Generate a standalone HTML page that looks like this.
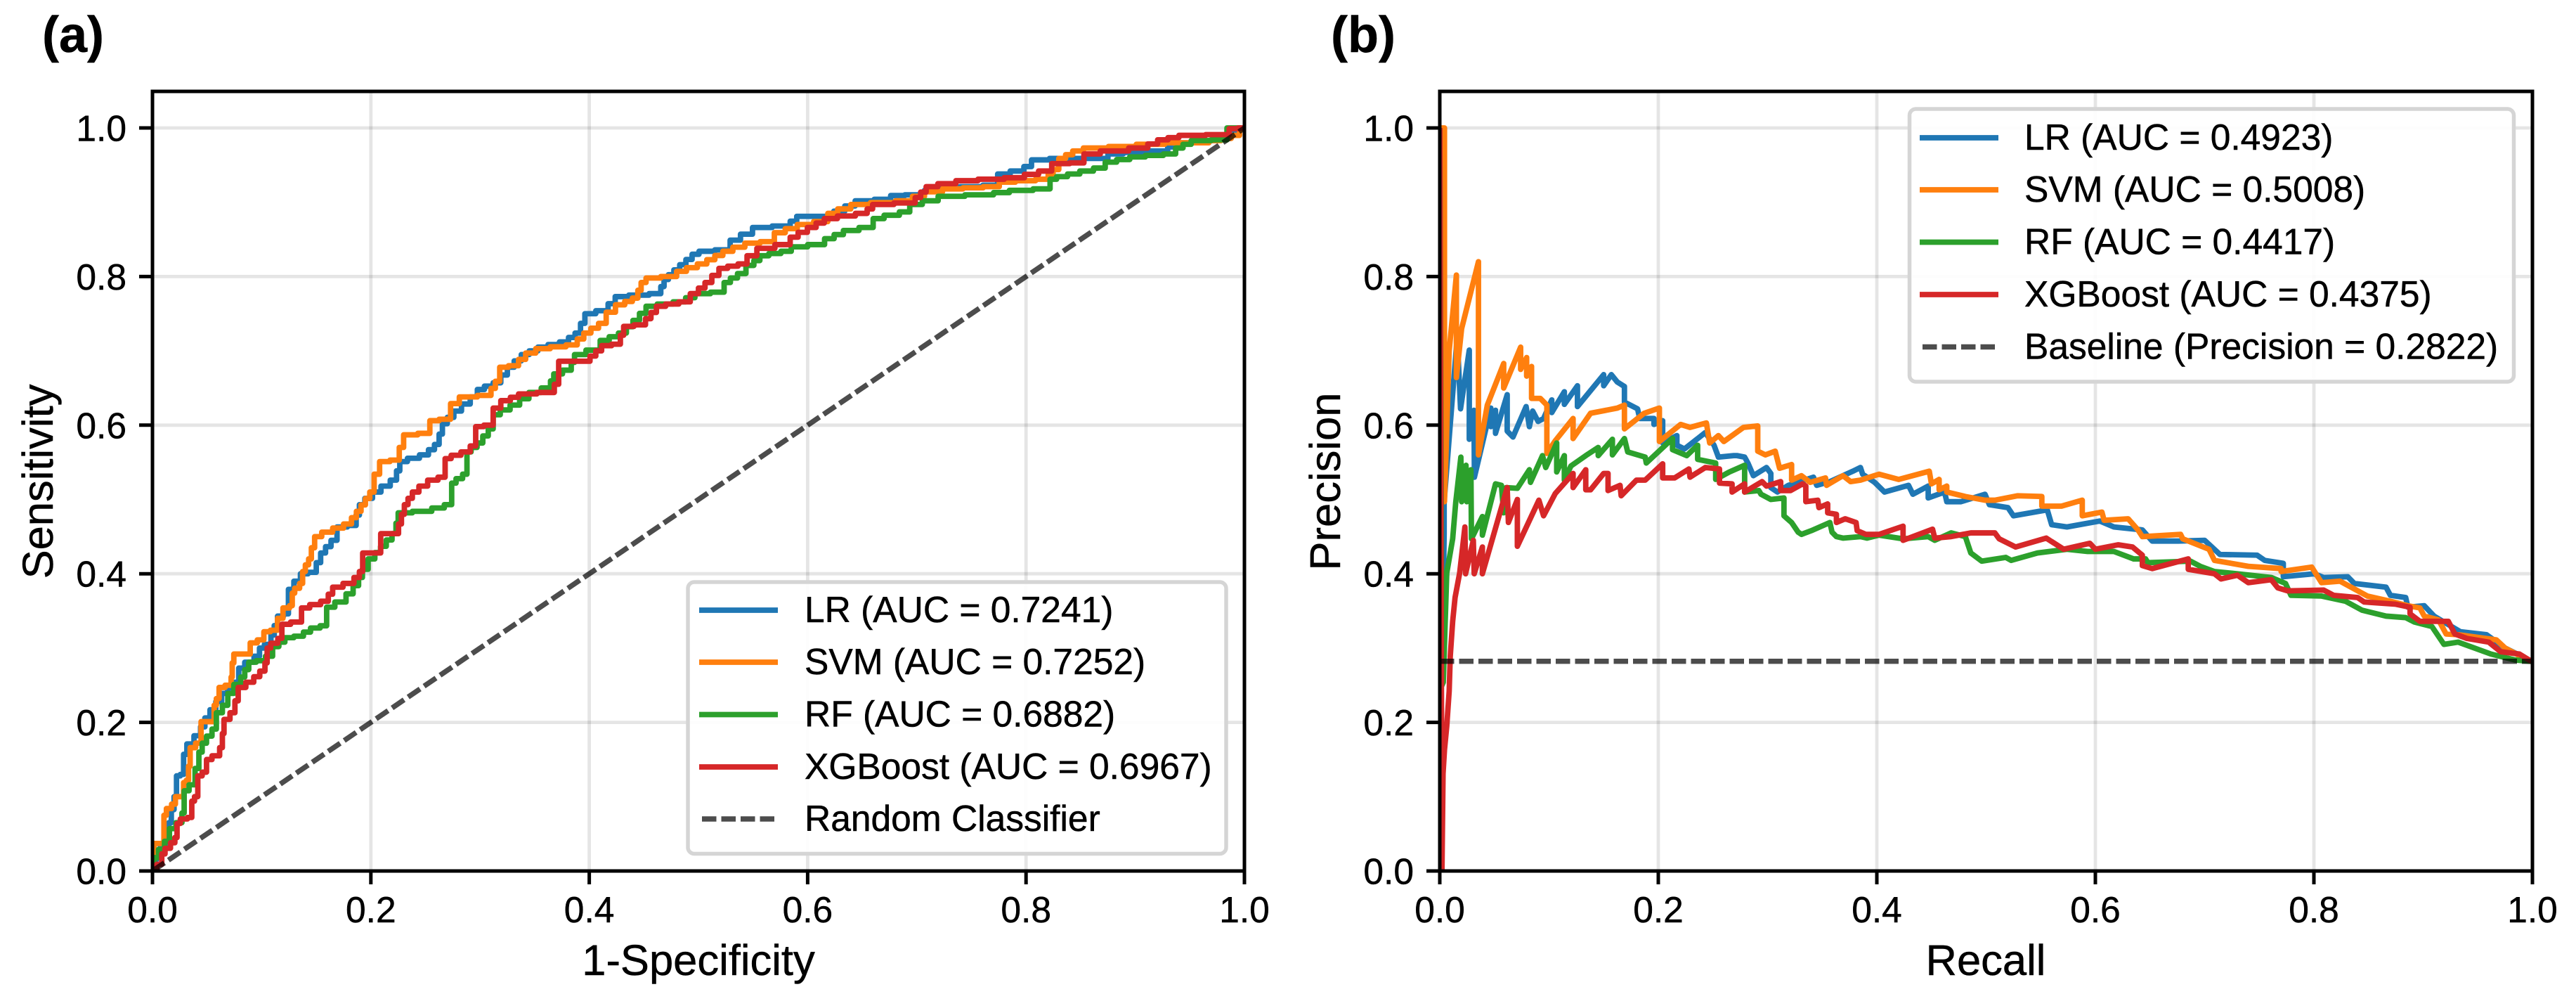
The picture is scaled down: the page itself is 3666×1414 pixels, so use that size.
<!DOCTYPE html>
<html lang="en">
<head>
<meta charset="utf-8">
<title>ROC and Precision-Recall curves</title>
<style>
html,body{margin:0;padding:0;background:#fff;}
svg{display:block;}
text{font-family:"Liberation Sans",Arial,sans-serif;fill:#000;stroke:#000;stroke-width:.5px;}
.tick{font-size:51.5px;}
.leg{font-size:51.5px;}
.axl{font-size:61.5px;text-anchor:middle;}
.pan{font-size:72px;font-weight:bold;}
</style>
</head>
<body>
<svg id="fig" xmlns="http://www.w3.org/2000/svg" width="3666" height="1414" viewBox="0 0 3666 1414">
  <rect x="0" y="0" width="3666" height="1414" fill="#fff"/>
  <defs>
    <clipPath id="clipA"><rect x="217" y="129" width="1554" height="1110"/></clipPath>
    <clipPath id="clipB"><rect x="2049" y="129" width="1555" height="1110"/></clipPath>
  </defs>
  <g id="panelA"></g>
  <g id="panelB"></g>

  <text class="pan" x="60" y="74">(a)</text>
  <text class="pan" x="1894" y="74">(b)</text>

  <text class="axl" x="994" y="1387">1-Specificity</text>
  <text class="axl" transform="translate(75 685) rotate(-90)">Sensitivity</text>
  <text class="axl" x="2826" y="1387">Recall</text>
  <text class="axl" transform="translate(1907 685) rotate(-90)">Precision</text>

  <g>
    <rect x="979" y="828" width="766" height="386.5" rx="9" fill="#fff" fill-opacity=".9" stroke="#d5d5d5" stroke-width="5.5"/>
    <line x1="995" x2="1107" y1="868" y2="868" stroke="#1f77b4" stroke-width="7.8"/>
    <text class="leg" x="1145" y="885">LR (AUC = 0.7241)</text>
    <line x1="995" x2="1107" y1="942" y2="942" stroke="#ff7f0e" stroke-width="7.8"/>
    <text class="leg" x="1145" y="959">SVM (AUC = 0.7252)</text>
    <line x1="995" x2="1107" y1="1016.5" y2="1016.5" stroke="#2ca02c" stroke-width="7.8"/>
    <text class="leg" x="1145" y="1033.5">RF (AUC = 0.6882)</text>
    <line x1="995" x2="1107" y1="1091" y2="1091" stroke="#d62728" stroke-width="7.8"/>
    <text class="leg" x="1145" y="1108">XGBoost (AUC = 0.6967)</text>
    <line x1="999" x2="1103" y1="1165" y2="1165" stroke="#000" stroke-opacity=".7" stroke-width="7.6" stroke-dasharray="20.5 7"/>
    <text class="leg" x="1145" y="1182">Random Classifier</text>
  </g>

  <g>
    <rect x="2717.5" y="155" width="860" height="388" rx="9" fill="#fff" fill-opacity=".9" stroke="#d5d5d5" stroke-width="5.5"/>
    <line x1="2732" x2="2844" y1="196" y2="196" stroke="#1f77b4" stroke-width="7.8"/>
    <text class="leg" x="2881" y="213">LR (AUC = 0.4923)</text>
    <line x1="2732" x2="2844" y1="270" y2="270" stroke="#ff7f0e" stroke-width="7.8"/>
    <text class="leg" x="2881" y="287">SVM (AUC = 0.5008)</text>
    <line x1="2732" x2="2844" y1="344.5" y2="344.5" stroke="#2ca02c" stroke-width="7.8"/>
    <text class="leg" x="2881" y="361.5">RF (AUC = 0.4417)</text>
    <line x1="2732" x2="2844" y1="419" y2="419" stroke="#d62728" stroke-width="7.8"/>
    <text class="leg" x="2881" y="436">XGBoost (AUC = 0.4375)</text>
    <line x1="2736" x2="2840" y1="493.5" y2="493.5" stroke="#000" stroke-opacity=".7" stroke-width="7.6" stroke-dasharray="20.5 7"/>
    <text class="leg" x="2881" y="510.5">Baseline (Precision = 0.2822)</text>
  </g>
</svg>

<script>
const tickValues = [0, 0.2, 0.4, 0.6, 0.8, 1];
const tickLabels = ['0.0', '0.2', '0.4', '0.6', '0.8', '1.0'];

const rocDiagonal = [[0,0],[1,1]];
const prBaseline = [[0,0.2822],[1,0.2822]];

const rocLr = [[0,0],[.002,.015],[.005,.027],[.014,.043],[.016,.065],[.021,.1],[.023,.128],[.028,.13],[.029,.157],[.034,.171],[.042,.182],[.05,.206],[.066,.239],[.077,.254],[.081,.273],[.088,.281],[.098,.289],[.098,.3],[.107,.305],[.116,.343],[.124,.346],[.125,.379],[.134,.39],[.137,.4],[.148,.402],[.156,.428],[.166,.445],[.172,.463],[.185,.465],[.191,.493],[.205,.51],[.222,.526],[.228,.551],[.25,.56],[.261,.574],[.267,.602],[.279,.619],[.295,.638],[.3,.648],[.316,.657],[.328,.678],[.341,.695],[.357,.705],[.378,.712],[.39,.724],[.398,.75],[.414,.754],[.427,.773],[.464,.777],[.47,.796],[.48,.809],[.497,.83],[.504,.834],[.526,.836],[.532,.849],[.545,.857],[.554,.866],[.581,.868],[.593,.881],[.619,.881],[.639,.895],[.648,.902],[.674,.904],[.678,.909],[.7,.91],[.714,.916],[.748,.921],[.773,.923],[.775,.938],[.796,.942],[.8,.948],[.81,.957],[.833,.959],[.873,.959],[.877,.965],[.925,.969],[.944,.98],[.984,.986],[.999,1],[1,1]];
const rocSvm = [[0,0],[.0015,.0085],[.0015,.037],[.0105,.037],[.0105,.075],[.015,.084],[.02,.09],[.022,.1],[.028,.1],[.029,.119],[.033,.122],[.033,.141],[.036,.166],[.043,.172],[.046,.201],[.056,.201],[.057,.223],[.06,.232],[.062,.247],[.071,.25],[.073,.261],[.073,.28],[.076,.292],[.088,.292],[.091,.307],[.101,.311],[.103,.322],[.113,.324],[.116,.34],[.123,.354],[.128,.357],[.128,.374],[.137,.387],[.138,.403],[.142,.412],[.144,.42],[.15,.45],[.16,.456],[.18,.467],[.189,.484],[.201,.51],[.205,.534],[.211,.551],[.224,.553],[.232,.587],[.254,.589],[.254,.606],[.271,.608],[.275,.629],[.287,.638],[.308,.64],[.316,.659],[.32,.678],[.332,.68],[.345,.697],[.357,.703],[.386,.708],[.398,.724],[.412,.737],[.419,.752],[.429,.762],[.443,.771],[.449,.792],[.455,.798],[.476,.8],[.484,.807],[.504,.817],[.526,.834],[.548,.845],[.565,.847],[.574,.859],[.596,.87],[.615,.874],[.622,.885],[.633,.891],[.646,.897],[.692,.902],[.7,.908],[.714,.914],[.733,.918],[.77,.921],[.781,.927],[.818,.931],[.827,.944],[.833,.959],[.846,.969],[.859,.973],[.892,.975],[.91,.978],[.944,.98],[.962,.98],[.984,.986],[.992,.99],[.999,.999],[1,1]];
const rocRf = [[0,0],[.003,.018],[.008,.029],[.014,.04],[.017,.057],[.026,.065],[.028,.078],[.03,.108],[.037,.116],[.041,.138],[.044,.16],[.047,.172],[.057,.191],[.06,.213],[.068,.223],[.07,.239],[.079,.251],[.09,.281],[.1,.283],[.107,.289],[.113,.302],[.124,.314],[.135,.316],[.148,.327],[.159,.33],[.16,.355],[.174,.362],[.187,.384],[.194,.406],[.201,.42],[.222,.454],[.226,.482],[.25,.484],[.273,.493],[.275,.522],[.287,.534],[.289,.564],[.3,.576],[.31,.595],[.314,.614],[.332,.627],[.349,.644],[.363,.65],[.369,.669],[.382,.674],[.388,.695],[.406,.701],[.414,.714],[.431,.724],[.443,.741],[.455,.76],[.484,.766],[.501,.777],[.521,.779],[.526,.792],[.539,.804],[.548,.815],[.559,.828],[.581,.834],[.589,.84],[.611,.843],[.62,.851],[.637,.862],[.657,.866],[.663,.878],[.691,.887],[.696,.897],[.714,.902],[.725,.908],[.763,.91],[.792,.916],[.821,.918],[.823,.931],[.843,.938],[.868,.946],[.877,.954],[.901,.961],[.934,.965],[.94,.973],[.955,.983],[.984,.984],[.984,1],[1,1]];
const rocXgb = [[0,0],[.008,.009],[.009,.023],[.019,.038],[.022,.045],[.023,.064],[.028,.07],[.036,.072],[.036,.094],[.041,.1],[.042,.128],[.049,.133],[.05,.15],[.059,.155],[.064,.166],[.064,.185],[.067,.204],[.075,.213],[.076,.229],[.081,.247],[.09,.254],[.101,.269],[.105,.28],[.105,.3],[.118,.313],[.119,.332],[.134,.335],[.139,.354],[.159,.363],[.167,.382],[.182,.387],[.192,.403],[.193,.428],[.209,.428],[.209,.454],[.224,.454],[.232,.493],[.24,.51],[.256,.526],[.267,.53],[.269,.555],[.287,.564],[.295,.572],[.297,.598],[.31,.6],[.314,.623],[.324,.633],[.339,.642],[.365,.644],[.371,.655],[.373,.686],[.398,.686],[.414,.707],[.427,.709],[.433,.733],[.449,.735],[.464,.76],[.488,.766],[.497,.777],[.509,.792],[.522,.811],[.541,.817],[.548,.828],[.559,.838],[.581,.843],[.587,.853],[.604,.866],[.619,.878],[.652,.885],[.662,.897],[.696,.899],[.711,.921],[.744,.929],[.792,.933],[.818,.942],[.829,.952],[.851,.953],[.855,.965],[.881,.969],[.907,.973],[.925,.984],[.945,.99],[.984,.991],[.988,.999],[1,1]];

const prLr = [[0,1],[.001,.25],[.002,.258],[.003,.352],[.004,.453],[.004,.497],[.016,.72],[.019,.622],[.027,.701],[.027,.581],[.0313,.62],[.0317,.53],[.0467,.623],[.0467,.598],[.051,.62],[.051,.589],[.0617,.641],[.0617,.592],[.067,.584],[.079,.625],[.082,.598],[.085,.619],[.09,.605],[.095,.609],[.1025,.634],[.1025,.617],[.114,.645],[.114,.628],[.126,.653],[.126,.625],[.15,.668],[.15,.653],[.157,.668],[.1625,.658],[.169,.652],[.169,.631],[.181,.622],[.183,.609],[.196,.609],[.196,.601],[.204,.606],[.204,.576],[.217,.586],[.217,.573],[.224,.568],[.243,.59],[.251,.573],[.255,.557],[.269,.559],[.272,.559],[.279,.557],[.282,.549],[.287,.532],[.299,.543],[.303,.535],[.303,.516],[.309,.51],[.319,.519],[.342,.53],[.345,.519],[.357,.524],[.378,.538],[.385,.543],[.387,.534],[.398,.523],[.407,.51],[.429,.519],[.433,.507],[.447,.518],[.447,.502],[.462,.51],[.464,.497],[.477,.497],[.499,.507],[.503,.493],[.52,.489],[.525,.478],[.556,.486],[.56,.466],[.574,.463],[.604,.471],[.617,.463],[.643,.459],[.652,.444],[.676,.444],[.7,.445],[.714,.426],[.748,.425],[.755,.418],[.772,.414],[.772,.396],[.8,.4],[.809,.395],[.831,.396],[.837,.387],[.866,.382],[.87,.371],[.884,.368],[.886,.355],[.901,.357],[.91,.343],[.934,.322],[.958,.318],[.975,.3],[.997,.284],[1,.282]];
const prSvm = [[0,1],[.0043,1],[.0043,.497],[.0086,.7],[.0152,.802],[.0152,.664],[.02,.73],[.0354,.82],[.0354,.56],[.0435,.627],[.051,.655],[.0585,.683],[.0585,.65],[.074,.705],[.074,.675],[.0795,.691],[.0795,.666],[.084,.679],[.084,.636],[.092,.636],[.098,.627],[.098,.562],[.1057,.579],[.122,.609],[.122,.582],[.138,.616],[.1625,.623],[.169,.627],[.169,.595],[.187,.616],[.201,.623],[.201,.578],[.2204,.601],[.229,.597],[.244,.603],[.247,.576],[.255,.586],[.26,.578],[.278,.597],[.291,.599],[.291,.565],[.298,.56],[.307,.565],[.311,.542],[.322,.547],[.322,.526],[.331,.532],[.339,.523],[.353,.529],[.354,.519],[.369,.532],[.376,.524],[.385,.526],[.402,.534],[.42,.527],[.448,.538],[.45,.521],[.457,.527],[.457,.513],[.464,.518],[.464,.51],[.481,.504],[.499,.499],[.508,.499],[.529,.505],[.551,.504],[.551,.491],[.569,.491],[.588,.499],[.588,.478],[.606,.483],[.608,.472],[.63,.474],[.639,.459],[.643,.45],[.678,.453],[.68,.447],[.704,.433],[.709,.418],[.74,.41],[.77,.407],[.77,.403],[.798,.409],[.807,.388],[.824,.39],[.849,.37],[.87,.363],[.886,.357],[.897,.354],[.901,.343],[.914,.338],[.921,.319],[.932,.318],[.967,.311],[.975,.3],[.997,.283],[1,.282]];
const prRf = [[0,1],[.002,.25],[.0032,.254],[.0043,.305],[.0064,.401],[.0118,.447],[.0146,.496],[.0193,.557],[.02,.497],[.024,.546],[.0247,.497],[.0285,.54],[.029,.447],[.039,.477],[.039,.452],[.051,.521],[.0564,.519],[.0585,.482],[.0607,.516],[.071,.515],[.082,.54],[.083,.523],[.094,.559],[.097,.543],[.107,.576],[.107,.537],[.114,.559],[.114,.526],[.12,.545],[.1336,.559],[.145,.57],[.145,.559],[.158,.581],[.158,.56],[.169,.582],[.172,.564],[.188,.557],[.189,.549],[.213,.582],[.213,.567],[.226,.559],[.236,.573],[.236,.554],[.2525,.549],[.2525,.527],[.265,.537],[.279,.546],[.279,.51],[.292,.512],[.294,.507],[.303,.5],[.315,.502],[.315,.478],[.322,.469],[.328,.456],[.331,.453],[.34,.458],[.357,.469],[.359,.456],[.363,.45],[.369,.448],[.385,.45],[.391,.448],[.402,.452],[.424,.447],[.447,.45],[.453,.445],[.468,.455],[.481,.45],[.486,.428],[.496,.417],[.518,.422],[.523,.418],[.547,.428],[.574,.433],[.593,.43],[.617,.43],[.635,.42],[.646,.42],[.648,.415],[.687,.417],[.696,.41],[.709,.403],[.73,.4],[.761,.395],[.774,.387],[.779,.371],[.807,.37],[.829,.363],[.844,.351],[.866,.343],[.884,.341],[.892,.335],[.908,.329],[.919,.305],[.932,.308],[.962,.292],[.984,.284],[1,.282]];
const prXgb = [[0,1],[.002,0],[.003,.131],[.0043,.163],[.0064,.195],[.0086,.242],[.0096,.289],[.0118,.336],[.014,.368],[.0182,.401],[.023,.463],[.0236,.4],[.0307,.445],[.0315,.4],[.039,.436],[.039,.4],[.0617,.516],[.0628,.469],[.071,.5],[.071,.437],[.0907,.499],[.095,.478],[.1057,.508],[.122,.535],[.122,.516],[.1336,.54],[.1336,.513],[.138,.513],[.15,.535],[.154,.535],[.154,.512],[.165,.519],[.166,.505],[.18,.526],[.188,.526],[.204,.548],[.204,.529],[.215,.529],[.228,.541],[.229,.53],[.243,.543],[.256,.541],[.256,.522],[.2675,.521],[.2675,.51],[.279,.521],[.279,.51],[.295,.524],[.299,.518],[.312,.524],[.312,.512],[.321,.512],[.332,.521],[.335,.518],[.335,.497],[.346,.499],[.347,.489],[.355,.494],[.355,.482],[.363,.48],[.363,.469],[.371,.474],[.381,.469],[.382,.458],[.39,.453],[.402,.453],[.424,.464],[.424,.445],[.451,.46],[.453,.448],[.468,.45],[.486,.455],[.508,.455],[.512,.447],[.527,.436],[.555,.448],[.571,.433],[.595,.441],[.6,.433],[.621,.439],[.634,.436],[.643,.425],[.643,.411],[.652,.407],[.685,.42],[.685,.406],[.709,.4],[.715,.393],[.73,.398],[.74,.388],[.761,.392],[.767,.381],[.776,.377],[.809,.378],[.818,.371],[.84,.368],[.846,.362],[.875,.359],[.888,.355],[.888,.346],[.897,.336],[.923,.336],[.929,.319],[.94,.313],[.96,.308],[.971,.295],[.988,.292],[.998,.283],[1,.282]];

const NS = 'http://www.w3.org/2000/svg';
const LEFT_A = 217, RIGHT_A = 1771, LEFT_B = 2049, RIGHT_B = 3604;
const BOTTOM = 1239, UNIT_Y = 1057, TOP = 130;

function xScale(p, v) { return p.left + (p.right - p.left) * v; }
function yScale(v) { return BOTTOM - UNIT_Y * v; }

function make(tag, attrs, parent) {
  const el = document.createElementNS(NS, tag);
  for (const k in attrs) el.setAttribute(k, attrs[k]);
  parent.appendChild(el);
  return el;
}

function polyPath(p, pts) {
  return pts.map((d, i) => (i ? 'L' : 'M') + xScale(p, d[0]).toFixed(2) + ' ' + yScale(d[1]).toFixed(2)).join('');
}
function stepPath(p, pts) {
  let s = 'M' + xScale(p, pts[0][0]).toFixed(2) + ' ' + yScale(pts[0][1]).toFixed(2);
  for (let i = 1; i < pts.length; i++) {
    const xa = xScale(p, pts[i - 1][0]), xb = xScale(p, pts[i][0]);
    const ya = yScale(pts[i - 1][1]), yb = yScale(pts[i][1]);
    const n = Math.max(1, Math.round(Math.sqrt(Math.abs((xb - xa) * (yb - ya))) / 9));
    for (let k = 0; k < n; k++) {
      const mid = xa + (xb - xa) * (k + 0.5) / n;
      const yNext = ya + (yb - ya) * (k + 1) / n;
      const xNext = xa + (xb - xa) * (k + 1) / n;
      s += 'H' + mid.toFixed(2) + 'V' + yNext.toFixed(2) + 'H' + xNext.toFixed(2);
    }
  }
  return s;
}

function drawAxes(p) {
  const gridG = make('g', {}, p.group);
  
  
  tickValues.forEach((t) => {
    const vx = make('line', {x1: xScale(p, t), x2: xScale(p, t), y1: TOP, y2: BOTTOM, stroke: '#000', 'stroke-opacity': '.1', 'stroke-width': '4.8'}, gridG);
    
    
    const hz = make('line', {x1: p.left, x2: p.right, y1: yScale(t), y2: yScale(t), stroke: '#000', 'stroke-opacity': '.1', 'stroke-width': '4.8'}, gridG);
    
    
  });
}

function drawFrame(p) {
  const frame = make('rect', {x: p.left, y: TOP, width: p.right - p.left, height: BOTTOM - TOP, fill: 'none', stroke: '#000', 'stroke-width': '5'}, p.group);
  
  
  tickValues.forEach((t, i) => {
    const xt = make('line', {x1: xScale(p, t), x2: xScale(p, t), y1: BOTTOM, y2: BOTTOM + 19, stroke: '#000', 'stroke-width': '5'}, p.group);
    
    
    const yt = make('line', {x1: p.left - 19, x2: p.left, y1: yScale(t), y2: yScale(t), stroke: '#000', 'stroke-width': '5'}, p.group);
    
    
    const xl = make('text', {class: 'tick', x: xScale(p, t), y: 1312, 'text-anchor': 'middle'}, p.group);
    xl.textContent = tickLabels[i];
    
    
    const yl = make('text', {class: 'tick', x: p.left - 37, y: yScale(t) + 18.5, 'text-anchor': 'end'}, p.group);
    yl.textContent = tickLabels[i];
    
    
  });
}

function drawSeries(p, parent, pts, color, name, stepped) {
  const line = make('path', {d: stepped ? stepPath(p, pts) : polyPath(p, pts), fill: 'none', stroke: color, 'stroke-width': '7.8', 'stroke-linejoin': 'round', 'stroke-linecap': 'butt'}, parent);
  
  
}

function drawRef(p, parent, pts, name) {
  const line = make('path', {d: polyPath(p, pts), fill: 'none', stroke: '#000', 'stroke-opacity': '.7', 'stroke-width': '7.4', 'stroke-dasharray': '20.5 7'}, parent);
  
  
}

const panelA = {key: 'roc', left: LEFT_A, right: RIGHT_A, group: document.getElementById('panelA')};
const panelB = {key: 'pr', left: LEFT_B, right: RIGHT_B, group: document.getElementById('panelB')};

drawAxes(panelA);
const curvesA = make('g', {'clip-path': 'url(#clipA)'}, panelA.group);


drawSeries(panelA, curvesA, rocLr, '#1f77b4', 'roc-curve-lr', true);
drawSeries(panelA, curvesA, rocSvm, '#ff7f0e', 'roc-curve-svm', true);
drawSeries(panelA, curvesA, rocRf, '#2ca02c', 'roc-curve-rf', true);
drawSeries(panelA, curvesA, rocXgb, '#d62728', 'roc-curve-xgboost', true);
drawRef(panelA, curvesA, rocDiagonal, 'random-classifier-line');
drawFrame(panelA);

drawAxes(panelB);
const curvesB = make('g', {'clip-path': 'url(#clipB)'}, panelB.group);


drawSeries(panelB, curvesB, prLr, '#1f77b4', 'pr-curve-lr', false);
drawSeries(panelB, curvesB, prSvm, '#ff7f0e', 'pr-curve-svm', false);
drawSeries(panelB, curvesB, prRf, '#2ca02c', 'pr-curve-rf', false);
drawSeries(panelB, curvesB, prXgb, '#d62728', 'pr-curve-xgboost', false);
drawRef(panelB, curvesB, prBaseline, 'baseline-line');
drawFrame(panelB);
</script>
</body>
</html>
